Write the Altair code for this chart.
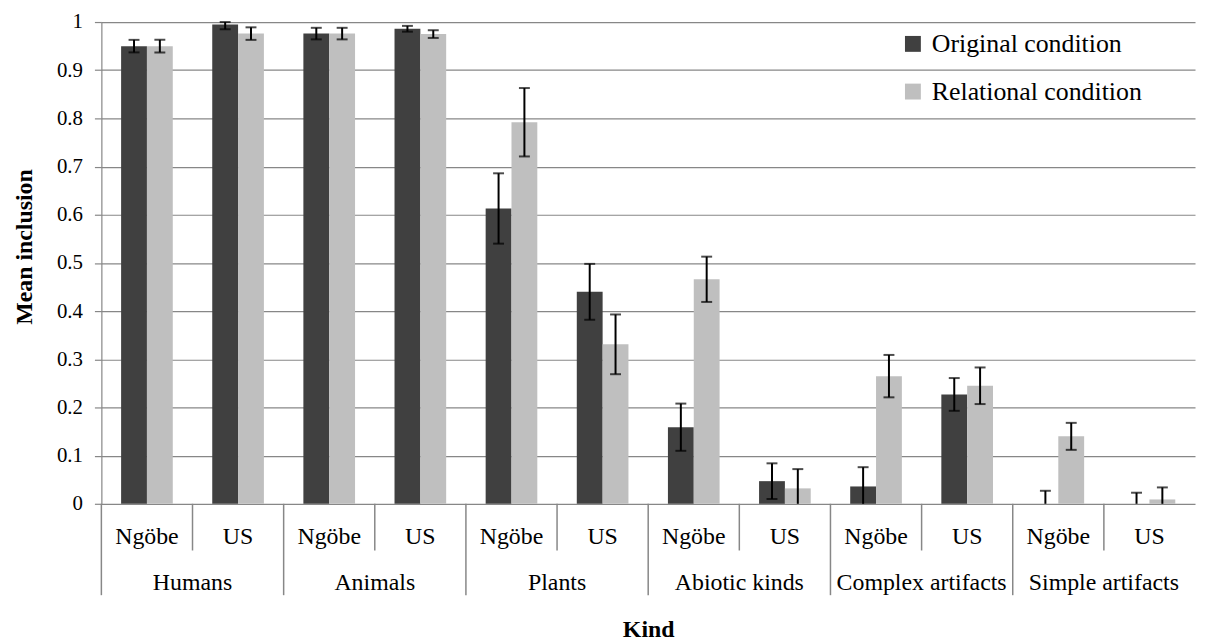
import altair as alt
import pandas as pd

kinds = ["Humans", "Animals", "Plants", "Abiotic kinds", "Complex artifacts", "Simple artifacts"]
populations = ["Ngöbe", "US"]
conditions = ["Original condition", "Relational condition"]

# values per (kind, population) in order Humans-Ngöbe, Humans-US, Animals-Ngöbe, ...
original_mean = [0.950, 0.995, 0.976, 0.986, 0.613, 0.440, 0.159, 0.047, 0.036, 0.227, 0.0, 0.0]
original_err = [0.013, 0.010, 0.012, 0.006, 0.073, 0.058, 0.049, 0.037, 0.040, 0.034, 0.027, 0.023]
relational_mean = [0.950, 0.976, 0.976, 0.975, 0.792, 0.331, 0.466, 0.032, 0.265, 0.245, 0.140, 0.009]
relational_err = [0.013, 0.013, 0.012, 0.008, 0.071, 0.062, 0.047, 0.040, 0.044, 0.038, 0.028, 0.025]

y_ticks = [0, 0.1, 0.2, 0.3, 0.4, 0.5, 0.6, 0.7, 0.8, 0.9, 1]

FONT = "Liberation Serif, Times New Roman, serif"
GRID = "#878787"
DARK = "#404040"
LIGHT = "#BFBFBF"

cats, cat_pop, cat_kind = [], [], []
for k in kinds:
    for p in populations:
        cats.append(f"{k}|{p}")
        cat_pop.append(p)
        cat_kind.append(k)

rows = []
for idx, cat in enumerate(cats):
    for cond, means, errs in [(conditions[0], original_mean, original_err),
                              (conditions[1], relational_mean, relational_err)]:
        m, e = means[idx], errs[idx]
        rows.append(dict(cat=cat, cond=cond, mean=m,
                         lo=max(0.0, m - e), hi=min(1.0, m + e),
                         lo_cap=(m - e) > 0))
df = pd.DataFrame(rows)
lab = pd.DataFrame({"cat": cats, "pop": cat_pop, "kind": cat_kind})
kind_lab = lab[lab["pop"] == "US"]
grp_lab = lab[lab["pop"] == "Ngöbe"]

xscale = alt.Scale(domain=cats, paddingInner=0, paddingOuter=0)
X = alt.X("cat:N", sort=cats, scale=xscale,
          axis=alt.Axis(labels=False, ticks=False, domain=False, grid=False,
                        title="Kind", titleFont=FONT, titleFontSize=24,
                        titleFontWeight="bold", titleColor="black",
                        titleBaseline="alphabetic", titleY=134))
XO = alt.XOffset("cond:N", sort=conditions,
                 scale=alt.Scale(domain=conditions, paddingInner=0, paddingOuter=0.764))
Y = alt.Y("mean:Q", scale=alt.Scale(domain=[0, 1], nice=False),
          axis=alt.Axis(values=y_ticks, format="~g", grid=True, gridColor=GRID,
                        gridWidth=1.2, domainColor=GRID, domainWidth=1.2,
                        tickColor=GRID, tickWidth=1.2, tickSize=7,
                        labelFont=FONT, labelFontSize=21, labelColor="black",
                        labelPadding=12, title="Mean inclusion", titleFont=FONT,
                        titleFontSize=24, titleFontWeight="bold", titleColor="black",
                        titleX=-70, titleY=226, titleAngle=270,
                        titleBaseline="alphabetic", titleAlign="center"))

base = alt.Chart(df)

bars = base.mark_bar().encode(
    x=X, xOffset=XO, y=Y,
    color=alt.Color("cond:N", sort=conditions,
                    scale=alt.Scale(domain=conditions, range=[DARK, LIGHT]),
                    legend=alt.Legend(title=None, orient="none", legendX=804, legendY=9,
                                      symbolType="square", symbolSize=256,
                                      symbolStrokeWidth=0, labelFont=FONT,
                                      labelFontSize=26, labelColor="black",
                                      labelOffset=6, rowPadding=22, padding=0,
                                      labelLimit=400)),
)

err = base.mark_rule(color="black", strokeWidth=2).encode(
    x=alt.X("cat:N", sort=cats), xOffset=XO, y="lo:Q", y2="hi:Q")
cap_hi = base.mark_tick(color="black", size=11, thickness=2).encode(
    x=alt.X("cat:N", sort=cats), xOffset=XO, y="hi:Q")
cap_lo = base.transform_filter(alt.datum.lo_cap).mark_tick(
    color="black", size=11, thickness=2).encode(
    x=alt.X("cat:N", sort=cats), xOffset=XO, y="lo:Q")

pop_text = alt.Chart(lab).mark_text(font=FONT, fontSize=24, baseline="alphabetic",
                                    color="black").encode(
    x=alt.X("cat:N", sort=cats), y=alt.value(525), text="pop:N")
kind_text = alt.Chart(kind_lab).mark_text(font=FONT, fontSize=24, baseline="alphabetic",
                                          color="black").encode(
    x=alt.X("cat:N", sort=cats, bandPosition=0), y=alt.value(572), text="kind:N")
sep_small = alt.Chart(kind_lab).mark_rule(color=GRID, strokeWidth=1.5).encode(
    x=alt.X("cat:N", sort=cats, bandPosition=0), y=alt.value(485), y2=alt.value(532))
sep_big = alt.Chart(grp_lab).mark_rule(color=GRID, strokeWidth=1.5).encode(
    x=alt.X("cat:N", sort=cats, bandPosition=0), y=alt.value(485), y2=alt.value(577))

chart = alt.layer(bars, err, cap_hi, cap_lo, pop_text, kind_text, sep_small, sep_big).properties(
    width=1101, height=485,
    padding={"left": 94, "top": 12, "right": 2, "bottom": 137},
    autosize=alt.AutoSizeParams(type="none"),
).configure_view(strokeWidth=0)

chart.save("out.html", embed_options={"renderer": "svg", "actions": False})
